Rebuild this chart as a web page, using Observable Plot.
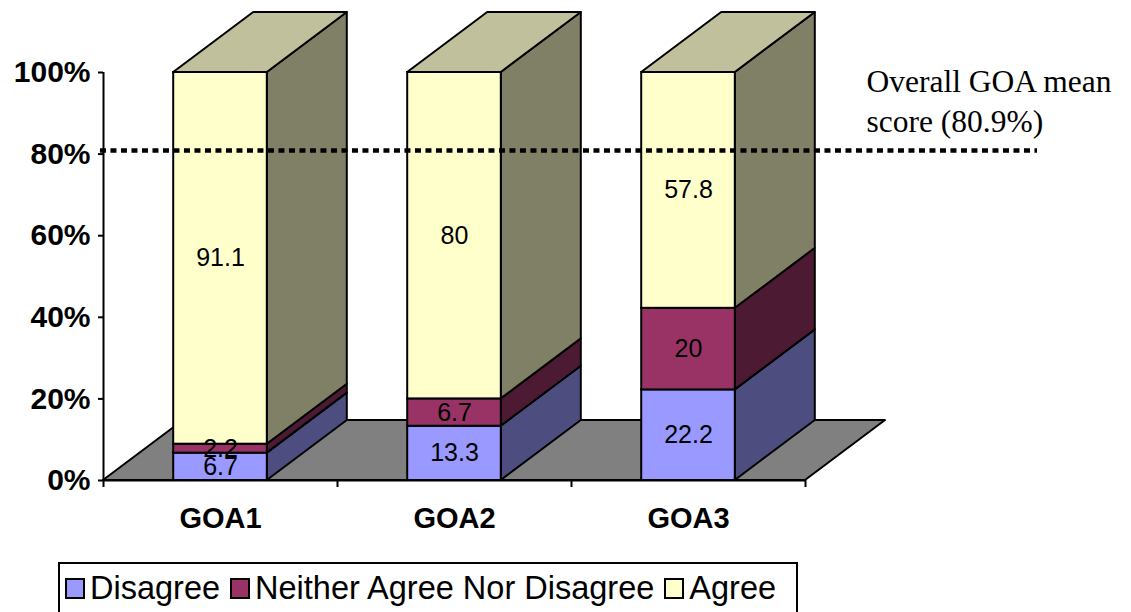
<!DOCTYPE html>
<html><head><meta charset="utf-8">
<script src="https://cdn.jsdelivr.net/npm/d3@7"></script>
<script src="https://cdn.jsdelivr.net/npm/@observablehq/plot@0.6"></script>
<style>
body{margin:0;background:#fff;font-family:"Liberation Sans",Arial,sans-serif;}
#wrap{position:relative;width:1131px;height:612px;overflow:hidden;}
#legend{position:absolute;left:58px;top:562px;width:740px;height:62px;border:2px solid #000;box-sizing:border-box;display:flex;align-items:center;padding-left:5px;padding-bottom:10px;font-size:32.5px;color:#000;white-space:nowrap;}
#legend .item{display:flex;align-items:center;margin-right:10px;}
#legend .sw{width:16px;height:17px;border:2px solid #000;margin-right:5px;}
</style></head><body>
<div id="wrap"><div id="chart"></div><div id="legend"></div></div>
<script>
// ---- data ----
const categories = ["GOA1", "GOA2", "GOA3"];
const series = ["Disagree", "Neither Agree Nor Disagree", "Agree"];
const disagree = [6.7, 13.3, 22.2];
const neither = [2.2, 6.7, 20];
const agree = [91.1, 80, 57.8];
const yTicks = [0, 20, 40, 60, 80, 100];
const meanScore = 80.9;
const meanLabel = "Overall GOA mean\nscore (80.9%)";

// ---- styles ----
const frontColors = ["#9999FF", "#993366", "#FFFFCC"];
const sideColors = ["#4D4D80", "#4D1A33", "#808066"];
const topColors = ["#CCCCFF", "#C08099", "#C0C09C"];
const floorColor = "#808080";
const HALF = 0.2;          // half bar width (category units)
const DX = 80 / 234;       // depth offset in x units
const DY = 60 / 4.08;      // depth offset in y units

const values = [disagree, neither, agree];
const segs = [];
categories.forEach((c, i) => {
  let base = 0;
  values.forEach((arr, k) => {
    const v = arr[i];
    segs.push({cat: c, i, k, series: series[k], value: v, y1: base, y2: base + v,
      x0: i + 0.5 - HALF, x1: i + 0.5 + HALF});
    base += v;
  });
});

const sidePts = segs.flatMap((s, j) => [
  {id: j, k: s.k, x: s.x1, y1: s.y1, y2: s.y2},
  {id: j, k: s.k, x: s.x1 + DX, y1: s.y1 + DY, y2: s.y2 + DY}
]);
const topSegs = categories.map((c, i) => {
  const segsI = segs.filter(s => s.i === i);
  return segsI[segsI.length - 1];
});
const topPts = topSegs.flatMap((s, j) => [
  {id: j, k: s.k, y: s.y2, x1: s.x0, x2: s.x1},
  {id: j, k: s.k, y: s.y2 + DY, x1: s.x0 + DX, x2: s.x1 + DX}
]);
const n = categories.length;
const floorPts = [
  {y: 0, x1: 0, x2: n},
  {y: DY, x1: DX, x2: n + DX}
];

const chart = Plot.plot({
  width: 1131,
  height: 555,
  marginLeft: 103,
  marginRight: 1131 - 805,
  marginTop: 72,
  marginBottom: 75,
  x: {domain: [0, n]},
  y: {domain: [0, 100]},
  color: {type: "identity"},
  style: {fontFamily: "'Liberation Sans', Arial, sans-serif", background: "#fff", overflow: "visible"},
  marks: [
    Plot.area(floorPts, {y1: "y", x1: "x1", x2: "x2", fill: floorColor, stroke: "#000", strokeWidth: 2}),
    Plot.ruleX([0], {y1: 0, y2: 100, stroke: "#000", strokeWidth: 2}),
    Plot.ruleY([0], {x1: 0, x2: n, stroke: "#000", strokeWidth: 2}),
    Plot.axisY({ticks: yTicks, tickFormat: d => d + "%", tickSize: 5, tickPadding: 8,
      fontSize: 30, fontWeight: "bold", strokeWidth: 2, stroke: "#000", fill: "#000"}),
    Plot.axisX({ticks: d3.range(n + 1), tickSize: 7, tickFormat: () => "", strokeWidth: 2, stroke: "#000"}),
    Plot.text(categories, {x: (d, i) => i + 0.5, y: 0, text: d => d, dy: 38,
      fontSize: 29, fontWeight: "bold", fill: "#000"}),
    Plot.area(sidePts, {x1: "x", y1: "y1", y2: "y2", z: "id", fill: d => sideColors[d.k], stroke: "#000", strokeWidth: 2, strokeLinejoin: "round"}),
    Plot.area(topPts, {y1: "y", x1: "x1", x2: "x2", z: "id", fill: d => topColors[d.k], stroke: "#000", strokeWidth: 2, strokeLinejoin: "round"}),
    Plot.rect(segs, {x1: "x0", x2: "x1", y1: "y1", y2: "y2", fill: d => frontColors[d.k], stroke: "#000", strokeWidth: 2}),
    Plot.text(segs, {x: d => d.i + 0.5, y: d => (d.y1 + d.y2) / 2, text: d => String(d.value),
      fontSize: 25, fill: "#000"}),
    Plot.ruleY([meanScore], {x1: -0.013, x2: (1037 - 103) / 234, stroke: "#000", strokeWidth: 4.5, strokeDasharray: "6,4.5"}),
    Plot.text([meanLabel], {x: (866 - 103) / 234, y: 100, text: d => d, textAnchor: "start", lineAnchor: "top",
      dy: -8, lineHeight: 1.25, fontSize: 31.5, fontFamily: "'Liberation Serif', 'Times New Roman', serif", fill: "#000"})
  ]
});
document.getElementById("chart").appendChild(chart);

// legend
const legend = document.getElementById("legend");
series.forEach((s, k) => {
  const item = document.createElement("div");
  item.className = "item";
  const sw = document.createElement("div");
  sw.className = "sw";
  sw.style.background = frontColors[k];
  const label = document.createElement("span");
  label.textContent = s;
  item.appendChild(sw);
  item.appendChild(label);
  legend.appendChild(item);
});
</script>
</body></html>
